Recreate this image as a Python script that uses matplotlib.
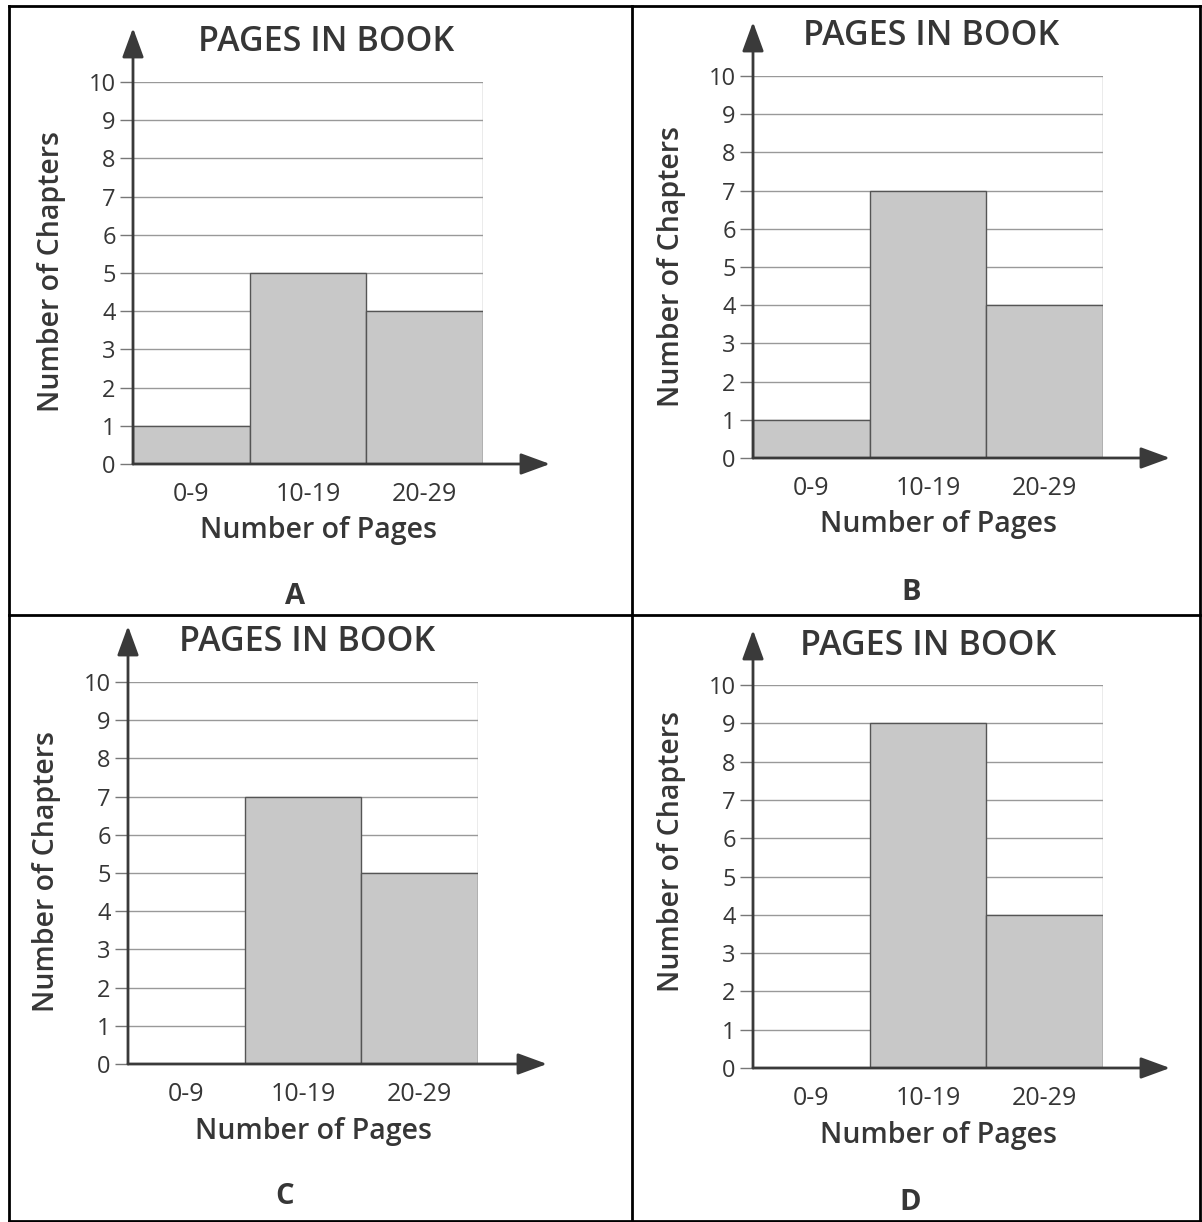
import matplotlib.pyplot as plt
import matplotlib.lines as mlines

categories = ['0-9', '10-19', '20-29']
counts_a = [1, 5, 4]
counts_b = [1, 7, 4]
counts_c = [0, 7, 5]
counts_d = [0, 9, 4]
panel_letters = ['A', 'B', 'C', 'D']

W, H = 1202, 1222
plt.rcParams['font.family'] = ['Open Sans', 'DejaVu Sans']
txt = '#363636'

fig = plt.figure(figsize=(W / 100, H / 100), dpi=100)


def px(x, y):
    return x / W, 1 - y / H


# table borders
for (x1, y1, x2, y2) in [(9, 6, 1200, 6), (9, 615, 1200, 615), (9, 1221, 1200, 1221),
                         (9, 6, 9, 1222), (632, 6, 632, 1222), (1200, 6, 1200, 1222)]:
    a, b = px(x1, y1)
    c, d = px(x2, y2)
    fig.add_artist(mlines.Line2D([a, c], [b, d], color='black', lw=2))

# panel layout in pixels: axis left/right, y of 0 and 10, title x, ylabel y, letter, arrow ends
layout = [
    dict(x0=133, x1=483, y0=464, y10=82, tx=326, ly=272, letter=(295, 597), ytop=28, xtip=550),
    dict(x0=753, x1=1103, y0=458, y10=76, tx=931, ly=267, letter=(911, 593), ytop=22, xtip=1170),
    dict(x0=128, x1=478, y0=1064, y10=682, tx=307, ly=872, letter=(285, 1197), ytop=626, xtip=547),
    dict(x0=753, x1=1103, y0=1068, y10=685, tx=928, ly=852, letter=(910, 1203), ytop=630, xtip=1170),
]
all_counts = [counts_a, counts_b, counts_c, counts_d]
arrow = dict(arrowstyle='-|>,head_length=0.9,head_width=0.33', color='#3a3a3a', lw=2,
             mutation_scale=20, shrinkA=0, shrinkB=0)

for L, counts, letter in zip(layout, all_counts, panel_letters):
    w = L['x1'] - L['x0']
    h = L['y0'] - L['y10']
    left, bottom = px(L['x0'], L['y0'])
    ax = fig.add_axes([left, bottom, w / W, h / H])
    ax.set_xlim(0, 3)
    ax.set_ylim(0, 10)
    for s in ax.spines.values():
        s.set_visible(False)

    ax.hlines(range(1, 11), 0, 3, color='#999999', lw=1, zorder=1)
    ax.vlines(3, 0, 10, color='#999999', lw=1, zorder=1)
    ax.bar(range(3), counts, width=1, align='edge', color='#c8c8c8',
           edgecolor='#555555', linewidth=1, zorder=3)

    # axis arrows
    ax.annotate('', xy=((L['xtip'] - L['x0']) / w, 0), xytext=(0, 0), xycoords='axes fraction',
                arrowprops=arrow, zorder=5, annotation_clip=False)
    ax.annotate('', xy=(0, (L['y0'] - L['ytop']) / h), xytext=(0, 0), xycoords='axes fraction',
                arrowprops=arrow, zorder=5, annotation_clip=False)

    ax.set_yticks(range(11))
    ax.tick_params(axis='y', length=9.5, width=1, color='#777777', pad=3,
                   labelsize=17, labelcolor=txt)
    ax.set_xticks([0.5, 1.5, 2.5])
    ax.set_xticklabels(categories)
    ax.tick_params(axis='x', length=0, pad=13, labelsize=18, labelcolor=txt)

    ax.text((L['tx'] - L['x0']) / w, 422 / h, 'PAGES IN BOOK', transform=ax.transAxes,
            ha='center', va='center', fontsize=24.5, fontweight='semibold', color=txt)
    ax.text(0.53, -67 / h, 'Number of Pages', transform=ax.transAxes, ha='center',
            va='center', fontsize=20.5, fontweight='semibold', color=txt)
    ax.text(-81 / w, (L['y0'] - L['ly']) / h, 'Number of Chapters', transform=ax.transAxes,
            ha='center', va='center', rotation=90, fontsize=20.5, fontweight='semibold',
            color=txt)

    lx, ly = px(*L['letter'])
    fig.text(lx, ly, letter, ha='center', va='center', fontsize=21, fontweight='bold',
             color=txt)

fig.savefig('out.png', dpi=100, facecolor='white')
